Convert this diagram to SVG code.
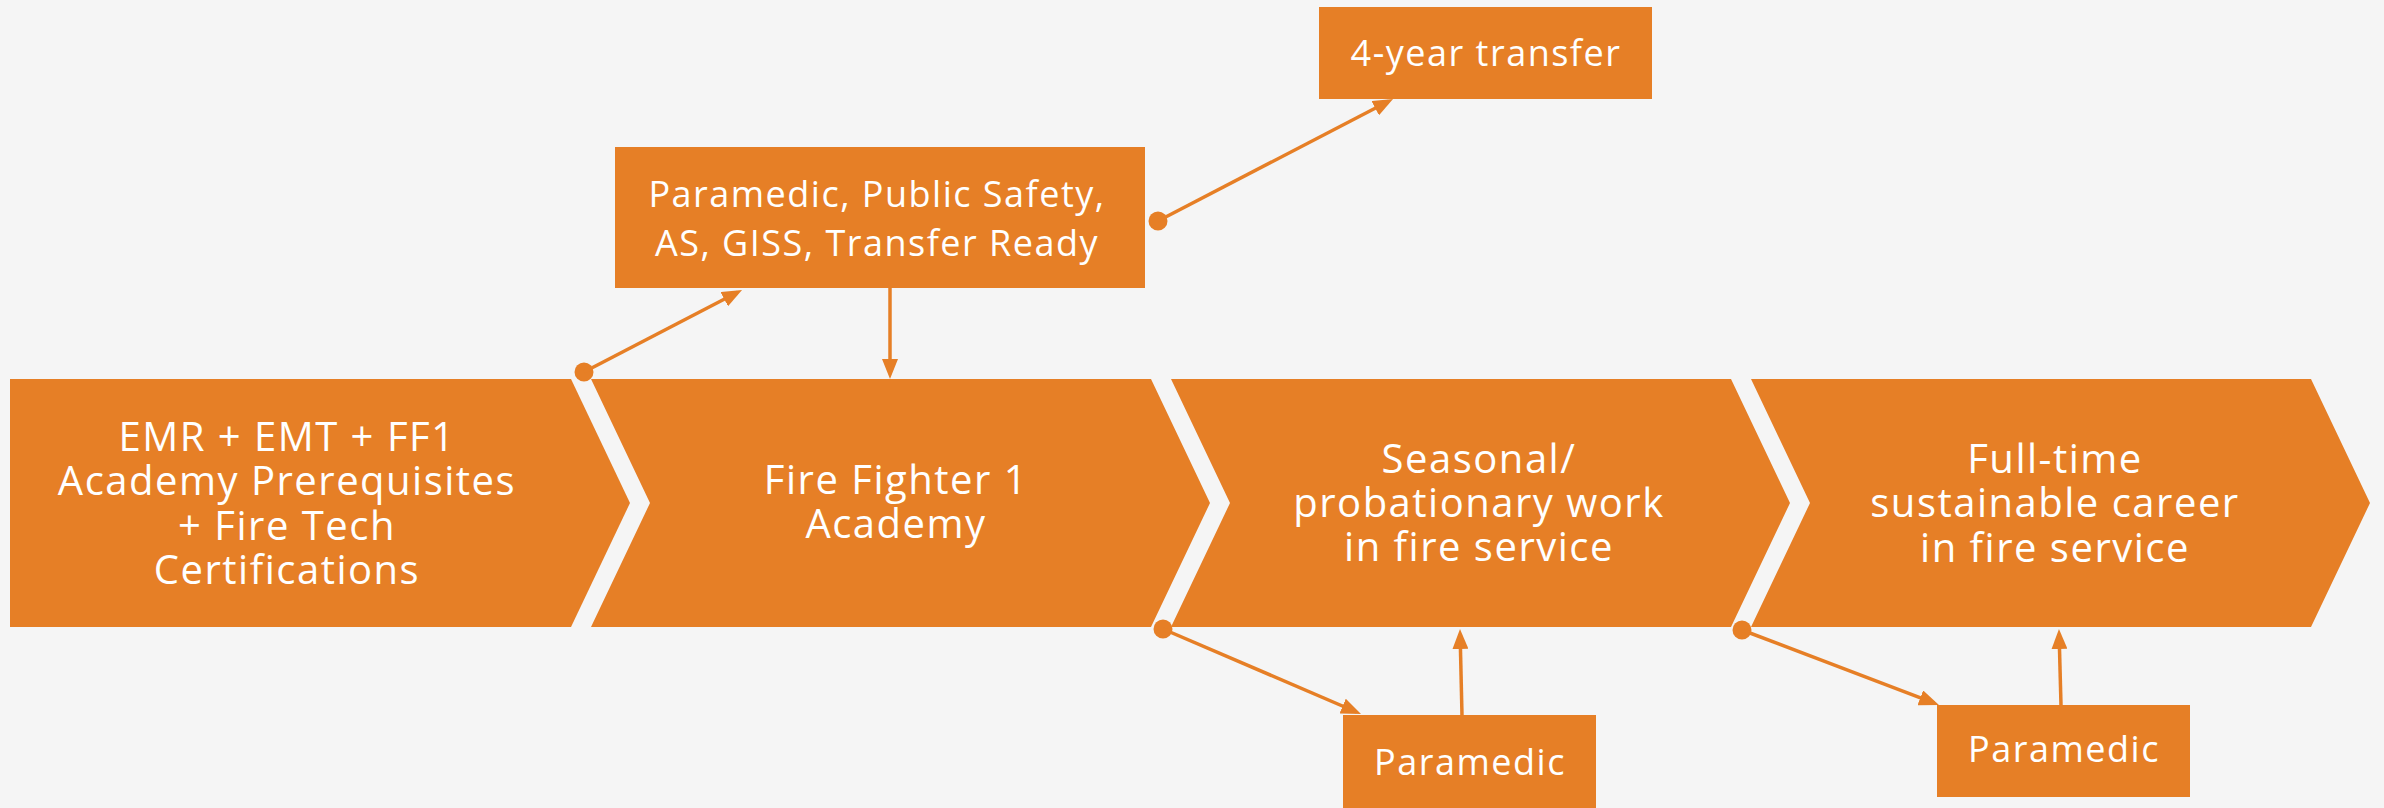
<svg xmlns="http://www.w3.org/2000/svg" width="2384" height="808" viewBox="0 0 2384 808">
<defs>
<style>
.shape{fill:#E67F26;}
.t{font-family:"Open Sans","Noto Sans","Liberation Sans",sans-serif;fill:#FFFFFF;text-anchor:middle;letter-spacing:1.5px;}
.big{font-size:40px;}
.sm{font-size:36px;}
.conn{stroke:#E67F26;stroke-width:3.5;fill:none;marker-end:url(#ah);}
.dot{fill:#E67F26;}
</style>
<marker id="ah" markerUnits="userSpaceOnUse" markerWidth="20" markerHeight="16" refX="15" refY="8" orient="auto">
<path d="M0,0 L20,8 L0,16 Z" fill="#E67F26"/>
</marker>
</defs>
<rect x="0" y="0" width="2384" height="808" fill="#F5F5F5"/>

<g id="node-prereq">
<polygon class="shape" points="10,379 571,379 630,503 571,627 10,627"/>
<text class="t big" x="287" y="451">EMR + EMT + FF1</text>
<text class="t big" x="287" y="495">Academy Prerequisites</text>
<text class="t big" x="287" y="540">+ Fire Tech</text>
<text class="t big" x="287" y="584">Certifications</text>
</g>

<g id="node-ff1">
<polygon class="shape" points="591,379 1151,379 1210,503 1151,627 591,627 650,503"/>
<text class="t big" x="896" y="494">Fire Fighter 1</text>
<text class="t big" x="896" y="538">Academy</text>
</g>

<g id="node-seasonal">
<polygon class="shape" points="1171,379 1731,379 1790,503 1731,627 1171,627 1230,503"/>
<text class="t big" x="1479" y="473">Seasonal/</text>
<text class="t big" x="1479" y="517">probationary work</text>
<text class="t big" x="1479" y="561">in fire service</text>
</g>

<g id="node-fulltime">
<polygon class="shape" points="1751,379 2311,379 2370,503 2311,627 1751,627 1810,503"/>
<text class="t big" x="2055" y="473">Full-time</text>
<text class="t big" x="2055" y="517">sustainable career</text>
<text class="t big" x="2055" y="562">in fire service</text>
</g>

<g id="node-paramedic-ps">
<rect class="shape" x="615" y="147" width="530" height="141"/>
<text class="t sm" x="877" y="207">Paramedic, Public Safety,</text>
<text class="t sm" x="877" y="256">AS, GISS, Transfer Ready</text>
</g>

<g id="node-transfer">
<rect class="shape" x="1319" y="7" width="333" height="92"/>
<text class="t sm" x="1486" y="66">4-year transfer</text>
</g>

<g id="node-paramedic-1">
<rect class="shape" x="1343" y="715" width="253" height="93"/>
<text class="t sm" x="1470" y="775">Paramedic</text>
</g>

<g id="node-paramedic-2">
<rect class="shape" x="1937" y="705" width="253" height="92"/>
<text class="t sm" x="2064" y="762">Paramedic</text>
</g>

<g id="connectors">
<circle class="dot" cx="584" cy="372" r="9.5"/>
<path class="conn" d="M584,372 L737.6,292.3"/>
<path class="conn" d="M890,288 L890,374"/>
<circle class="dot" cx="1158" cy="221" r="9.5"/>
<path class="conn" d="M1158,221 L1388.6,101.3"/>
<circle class="dot" cx="1163" cy="629" r="9.5"/>
<path class="conn" d="M1163,629 L1356.4,712"/>
<path class="conn" d="M1462,715 L1460.1,634"/>
<circle class="dot" cx="1742" cy="630" r="9.5"/>
<path class="conn" d="M1742,630 L1934.3,703.2"/>
<path class="conn" d="M2061,705 L2059.1,634"/>
</g>
</svg>
